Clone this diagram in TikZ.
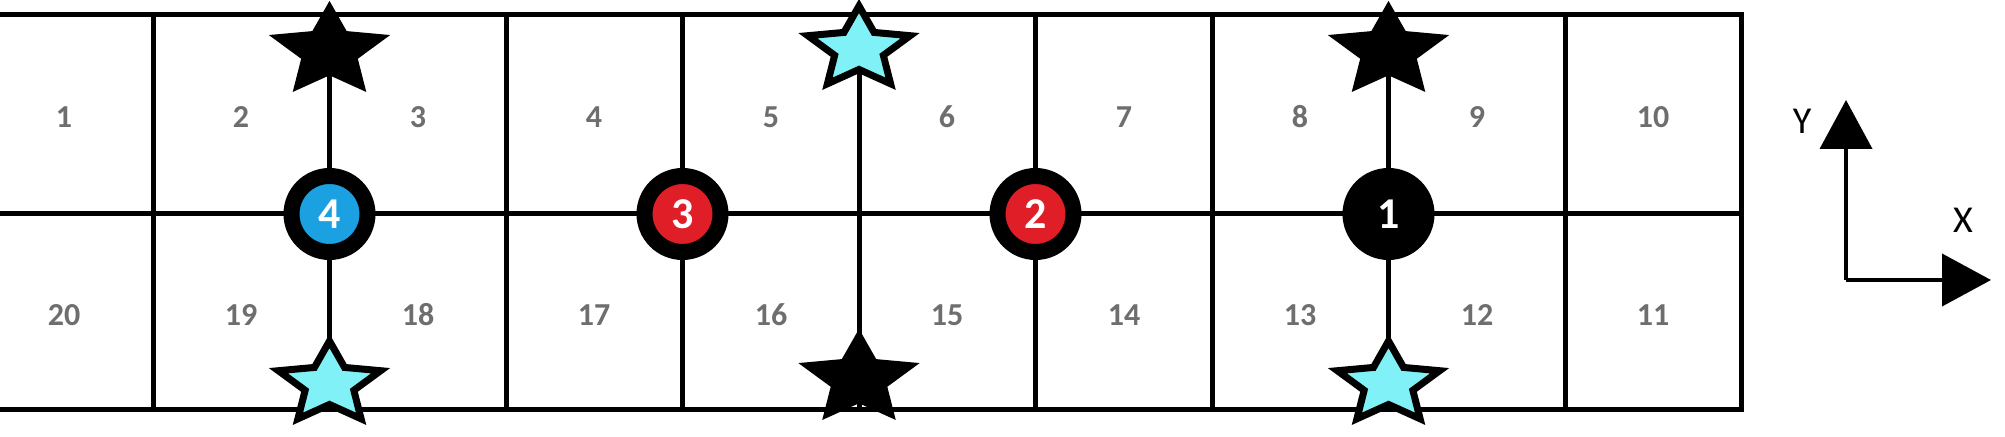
\documentclass[tikz,border=0pt]{standalone}
\usepackage{fontspec}
\setmainfont{Carlito}
\usetikzlibrary{shapes.geometric, arrows.meta}
\definecolor{robotblue}{RGB}{27,161,226}
\definecolor{robotred}{RGB}{224,30,40}
\definecolor{starcyan}{RGB}{128,241,246}
\definecolor{cellgray}{RGB}{110,110,110}

\begin{document}
\begin{tikzpicture}[x=0.5pt,y=0.5pt,yscale=-1,xscale=1,
  gridline/.style={line width=2.5pt, line cap=rect},
  cellnum/.style={text=cellgray, font=\fontsize{16}{18}\selectfont\bfseries, inner sep=0pt},
  robot/.style={circle, draw=black, line width=8pt, minimum size=38pt, inner sep=0pt, text=white, font=\fontsize{22}{24}\selectfont\bfseries},
  goal/.style={star, star points=5, star point ratio=2.1, minimum size=43pt, inner sep=0pt, xscale=1.25, draw=black, line width=3.5pt},
  axisline/.style={line width=2pt, -{Triangle[length=24.5pt,width=26pt]}},
  axislabel/.style={font=\fontsize{19}{22}\selectfont, inner sep=0pt}]
%set diagram to 2005 x 437, left part of the grid is cut off
\clip (0,0) rectangle (2005,437);

%Shape: Grid outline
\draw [gridline] (-23.5,15) rectangle (1741.5,410) ;
%Straight Lines: middle row line
\draw [gridline] (-23.5,214) -- (1741.5,214) ;
%Straight Lines: column lines
\draw [gridline] (153,15) -- (153,410) ;
\draw [gridline] (329.5,15) -- (329.5,410) ;
\draw [gridline] (506,15) -- (506,410) ;
\draw [gridline] (682.5,15) -- (682.5,410) ;
\draw [gridline] (859,15) -- (859,410) ;
\draw [gridline] (1035.5,15) -- (1035.5,410) ;
\draw [gridline] (1212,15) -- (1212,410) ;
\draw [gridline] (1388.5,15) -- (1388.5,410) ;
\draw [gridline] (1565,15) -- (1565,410) ;

% Text Node: top row
\node [cellnum] (n1) at (64,117) {1};
\node [cellnum] (n2) at (241,117) {2};
\node [cellnum] (n3) at (418,117) {3};
\node [cellnum] (n4) at (594,117) {4};
\node [cellnum] (n5) at (771,117) {5};
\node [cellnum] (n6) at (947,117) {6};
\node [cellnum] (n7) at (1124,117) {7};
\node [cellnum] (n8) at (1300,117) {8};
\node [cellnum] (n9) at (1477,117) {9};
\node [cellnum] (n10) at (1653,117) {10};
% Text Node: bottom row
\node [cellnum] (n20) at (64,315) {20};
\node [cellnum] (n19) at (241,315) {19};
\node [cellnum] (n18) at (418,315) {18};
\node [cellnum] (n17) at (594,315) {17};
\node [cellnum] (n16) at (771,315) {16};
\node [cellnum] (n15) at (947,315) {15};
\node [cellnum] (n14) at (1124,315) {14};
\node [cellnum] (n13) at (1300,315) {13};
\node [cellnum] (n12) at (1477,315) {12};
\node [cellnum] (n11) at (1653,315) {11};

%Shape: Stars
\node [goal, fill=black] (sta) at (329.5,51) {};
\node [goal, fill=starcyan] (stb) at (859,49) {};
\node [goal, fill=black] (stc) at (1388.5,51) {};
\node [goal, fill=starcyan] (sba) at (329.5,384) {};
\node [goal, fill=black] (sbb) at (859,379) {};
\node [goal, fill=starcyan] (sbc) at (1388.5,384) {};

%Shape: Circles
\node [robot, fill=robotblue] (r4) at (329.5,214) {4};
\node [robot, fill=robotred] (r3) at (682.5,214) {3};
\node [robot, fill=robotred] (r2) at (1035.5,214) {2};
\node [robot, fill=black] (r1) at (1388.5,214) {1};

%Axes
\coordinate (o) at (1846,280);
\coordinate (ytip) at (1846,100);
\coordinate (xtip) at (1991,280);
\draw [axisline] (o) -- (ytip) ;
\draw [axisline] (o) -- (xtip) ;
% Text Node
\node [axislabel] (ylab) at (1802,121) {Y};
\node [axislabel] (xlab) at (1963,220) {X};

\end{tikzpicture}
\end{document}
